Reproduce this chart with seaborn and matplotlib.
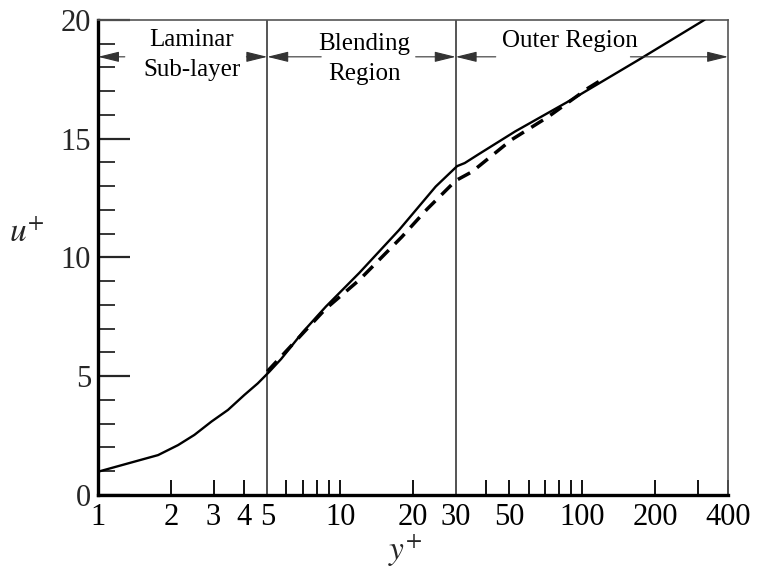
import matplotlib
matplotlib.use("Agg")
import matplotlib.pyplot as plt
import seaborn as sns
import pandas as pd
from matplotlib.ticker import FixedLocator, NullFormatter

# Measured velocity profile u+ versus wall distance y+
profile_y = [1.0, 1.33, 1.77, 2.14, 2.5, 2.94, 3.44, 4.02, 4.57, 5.1, 5.7, 7.0,
             8.73, 12.0, 17.5, 24.8, 30.4, 32.7, 37.3, 52.8, 90.0, 170.0, 320.0]
profile_u = [0.98, 1.33, 1.68, 2.1, 2.53, 3.09, 3.58, 4.21, 4.7, 5.19, 5.72, 6.85,
             7.93, 9.35, 11.15, 12.98, 13.84, 13.97, 14.34, 15.3, 16.63, 18.3, 20.0]

# Model curve (dashed)
model_y = [5.0, 8.7, 12.0, 18.0, 22.8, 30.0, 35.0, 51.0, 72.4, 105.6, 125.0]
model_u = [5.2, 7.83, 9.05, 10.87, 12.02, 13.23, 13.6, 14.95, 15.92, 17.12, 17.58]

# Region boundaries
boundaries = [1, 5, 30, 400]

x_ticks = [1, 2, 3, 4, 5, 10, 20, 30, 50, 100, 200, 400]
x_minor = [6, 7, 8, 9, 40, 60, 70, 80, 90, 300]
y_ticks = [0, 5, 10, 15, 20]

sns.set_theme(style="white")
plt.rcParams["font.family"] = ["Liberation Serif", "DejaVu Serif"]
plt.rcParams["mathtext.fontset"] = "stix"

fig = plt.figure(figsize=(7.6, 5.81), dpi=100)
ax = fig.add_axes([0.129, 0.148, 0.829, 0.818])

df_profile = pd.DataFrame({"y": profile_y, "u": profile_u})
df_model = pd.DataFrame({"y": model_y, "u": model_u})

sns.lineplot(data=df_profile, x="y", y="u", ax=ax, color="black", lw=1.7,
             estimator=None, zorder=4)
sns.lineplot(data=df_model, x="y", y="u", ax=ax, color="black", lw=2.5,
             estimator=None, zorder=3, linestyle=(0, (4, 2.5)))

ax.set_xscale("log")
ax.set_xlim(boundaries[0], boundaries[-1])
ax.set_ylim(0, 20)

# Region dividers
for b in boundaries[1:-1]:
    ax.axvline(b, color="#555555", lw=1.4, zorder=2)

# Ticks
ax.xaxis.set_major_locator(FixedLocator(x_ticks))
ax.xaxis.set_minor_locator(FixedLocator(x_minor))
ax.xaxis.set_minor_formatter(NullFormatter())
ax.set_xticklabels([str(t) for t in x_ticks])
ax.set_yticks(y_ticks)
ax.set_yticks([v for v in range(0, 21) if v % 5], minor=True)
ax.tick_params(axis="x", which="both", direction="in", length=11, width=1.3,
               pad=6, labelsize=22, colors="black", bottom=True)
ax.tick_params(axis="y", which="major", direction="in", length=23, width=1.6,
               pad=5, labelsize=22, left=True)
ax.tick_params(axis="y", which="minor", direction="in", length=12, width=1.3,
               left=True)

for side in ["left", "bottom"]:
    ax.spines[side].set_linewidth(2.4)
    ax.spines[side].set_color("black")
for side in ["top", "right"]:
    ax.spines[side].set_linewidth(1.2)
    ax.spines[side].set_color("#555555")

ax.set_xlabel("$y^{+}$", fontsize=24)
ax.xaxis.set_label_coords(0.487, -0.08)
ax.set_ylabel("$u^{+}$", fontsize=24, rotation=0, va="center")
ax.yaxis.set_label_coords(-0.113, 0.55)

# Region extent arrows
arrow_u = 18.44
head = dict(arrowstyle="-|>,head_length=0.65,head_width=0.16", color="#333333",
            lw=0.8, mutation_scale=20, shrinkA=0, shrinkB=0)
arrow_pairs = [((1.29, 1), (4.1, 5)), ((8.35, 5), (20.5, 30)), ((43.9, 30), (158, 400))]
for (ls, le), (rs, re) in arrow_pairs:
    ax.annotate("", xy=(le, arrow_u), xytext=(ls, arrow_u), arrowprops=head, zorder=5)
    ax.annotate("", xy=(re, arrow_u), xytext=(rs, arrow_u), arrowprops=head, zorder=5)

txt = dict(ha="center", va="center", fontsize=18, color="black")
ax.text(2.44, 19.16, "Laminar", **txt)
ax.text(2.44, 17.9, "Sub-layer", **txt)
ax.text(12.6, 19.0, "Blending", **txt)
ax.text(12.6, 17.7, "Region", **txt)
ax.text(89, 19.1, "Outer Region", **txt)

fig.savefig("out.png", dpi=100)
